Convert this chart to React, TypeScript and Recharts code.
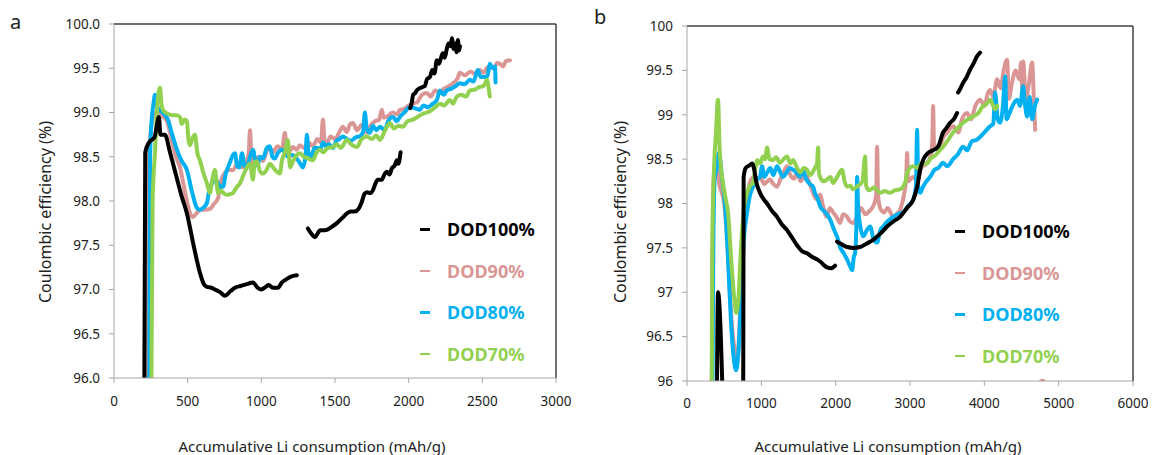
import React from 'react'
import { LineChart, Line, XAxis, YAxis, ReferenceLine } from 'recharts'

type Pt = [number, number | null]

// panel a: x = accumulative Li consumption (mAh/g), y = coulombic efficiency (%)
const aDod100: Pt[] = [
  [205, 95.5], [212, 98.55], [237, 98.66], [275, 98.72], [305, 98.95], [315, 98.75], [346, 98.75],
  [380, 98.55], [420, 98.3], [460, 98.05], [495, 97.86], [540, 97.5], [583, 97.19], [610, 97.06],
  [631, 97.03], [660, 97.02], [685, 97.0], [720, 96.97], [753, 96.93], [790, 96.98], [821, 97.02],
  [860, 97.04], [902, 97.06], [943, 97.08], [975, 97.02], [1000, 97.0], [1030, 97.03], [1050, 97.05],
  [1080, 97.02], [1113, 97.02], [1140, 97.08], [1174, 97.12], [1210, 97.15], [1241, 97.16],
  [1280, null],
  [1316, 97.69], [1340, 97.63], [1364, 97.59], [1385, 97.64], [1398, 97.67], [1430, 97.67],
  [1452, 97.68], [1480, 97.71], [1513, 97.75], [1550, 97.81], [1581, 97.86], [1610, 97.88],
  [1635, 97.88], [1660, 97.91], [1680, 97.98], [1700, 98.08], [1716, 98.1], [1740, 98.09],
  [1757, 98.12], [1775, 98.2], [1790, 98.24], [1818, 98.24], [1835, 98.3], [1852, 98.33],
  [1870, 98.3], [1886, 98.37], [1905, 98.4], [1920, 98.46], [1930, 98.42], [1945, 98.55],
  [1980, null],
  [2010, 99.05], [2021, 99.11], [2030, 99.2], [2045, 99.22], [2055, 99.25], [2070, 99.27],
  [2096, 99.29], [2110, 99.3], [2125, 99.38], [2144, 99.4], [2160, 99.48], [2175, 99.44],
  [2191, 99.59], [2205, 99.55], [2220, 99.62], [2232, 99.67], [2245, 99.62], [2259, 99.72],
  [2270, 99.78], [2285, 99.75], [2293, 99.84], [2305, 99.72], [2314, 99.78], [2325, 99.68],
  [2334, 99.82], [2342, 99.7], [2348, 99.75],
]

const aDod90: Pt[] = [
  [225, 95.5], [232, 98.3], [245, 98.7], [265, 98.95], [290, 99.0], [310, 99.0], [335, 98.95],
  [360, 98.9], [390, 98.7], [420, 98.5], [448, 98.38], [470, 98.2], [495, 98.0], [516, 97.86],
  [536, 97.82], [560, 97.86], [583, 97.9], [620, 97.9], [651, 97.91], [680, 97.97], [706, 98.03],
  [730, 98.25], [753, 98.32], [780, 98.35], [807, 98.35], [840, 98.42], [870, 98.38], [900, 98.45],
  [915, 98.55], [923, 98.8], [932, 98.5], [943, 98.38], [965, 98.48], [990, 98.5], [1010, 98.45],
  [1038, 98.57], [1058, 98.6], [1080, 98.55], [1110, 98.62], [1140, 98.58], [1160, 98.77],
  [1172, 98.6], [1190, 98.56], [1214, 98.61], [1240, 98.58], [1262, 98.63], [1290, 98.6],
  [1320, 98.66], [1350, 98.62], [1380, 98.7], [1405, 98.66], [1418, 98.92], [1430, 98.66],
  [1445, 98.66], [1470, 98.73], [1500, 98.7], [1530, 98.78], [1553, 98.84], [1580, 98.78],
  [1600, 98.86], [1621, 98.88], [1650, 98.8], [1680, 98.86], [1716, 98.77], [1740, 98.85],
  [1770, 98.9], [1800, 98.92], [1818, 99.03], [1830, 98.94], [1860, 98.96], [1890, 99.0],
  [1920, 98.98], [1940, 99.03], [1970, 99.04], [2000, 99.08], [2028, 99.1], [2060, 99.12],
  [2090, 99.2], [2123, 99.22], [2150, 99.18], [2180, 99.25], [2212, 99.22], [2240, 99.27],
  [2266, 99.29], [2300, 99.33], [2330, 99.38], [2348, 99.45], [2380, 99.42], [2420, 99.46],
  [2450, 99.44], [2483, 99.48], [2510, 99.45], [2530, 99.5], [2551, 99.52], [2580, 99.5],
  [2600, 99.56], [2619, 99.55], [2640, 99.52], [2660, 99.58], [2687, 99.59],
]

const aDod80: Pt[] = [
  [238, 95.5], [245, 98.5], [255, 98.9], [268, 99.1], [278, 99.2], [290, 99.08], [299, 99.05],
  [330, 99.0], [366, 98.92], [395, 98.75], [427, 98.58], [460, 98.45], [495, 98.35], [530, 98.1],
  [563, 97.92], [583, 97.9], [610, 97.93], [631, 97.98], [651, 98.16], [668, 98.2], [685, 98.26],
  [705, 98.2], [722, 98.16], [740, 98.16], [757, 98.3], [774, 98.38], [790, 98.45], [807, 98.52],
  [821, 98.54], [835, 98.4], [850, 98.38], [869, 98.54], [885, 98.4], [902, 98.38], [920, 98.48],
  [943, 98.58], [960, 98.45], [975, 98.4], [990, 98.5], [1010, 98.48], [1038, 98.6], [1058, 98.62],
  [1075, 98.5], [1090, 98.48], [1115, 98.55], [1140, 98.58], [1160, 98.55], [1180, 98.5],
  [1210, 98.52], [1240, 98.48], [1265, 98.42], [1282, 98.38], [1300, 98.5], [1309, 98.75],
  [1320, 98.55], [1340, 98.5], [1360, 98.6], [1380, 98.6], [1400, 98.58], [1418, 98.66],
  [1440, 98.62], [1460, 98.64], [1486, 98.6], [1510, 98.68], [1530, 98.7], [1553, 98.73],
  [1580, 98.7], [1610, 98.68], [1640, 98.72], [1669, 98.73], [1690, 98.78], [1703, 99.0],
  [1715, 98.82], [1737, 98.77], [1757, 98.85], [1780, 98.8], [1805, 98.84], [1838, 98.8],
  [1860, 98.9], [1893, 98.95], [1920, 98.9], [1940, 98.95], [1970, 99.0], [2008, 99.06],
  [2040, 99.05], [2076, 99.03], [2100, 99.08], [2130, 99.06], [2164, 99.1], [2191, 99.14],
  [2212, 99.25], [2240, 99.2], [2259, 99.25], [2290, 99.27], [2320, 99.3], [2348, 99.33],
  [2380, 99.32], [2415, 99.37], [2440, 99.35], [2469, 99.48], [2490, 99.4], [2531, 99.4],
  [2545, 99.5], [2551, 99.55], [2570, 99.5], [2585, 99.52], [2590, 99.34],
]

const aDod70: Pt[] = [
  [252, 95.5], [262, 98.0], [278, 98.54], [295, 99.1], [312, 99.28], [322, 99.1], [332, 99.03],
  [350, 99.0], [372, 98.98], [394, 98.97], [420, 98.97], [448, 98.95], [460, 98.87], [480, 98.92],
  [495, 98.9], [505, 98.7], [516, 98.63], [535, 98.72], [550, 98.75], [565, 98.55], [583, 98.46],
  [610, 98.3], [631, 98.2], [651, 98.09], [668, 98.25], [685, 98.35], [697, 98.2], [706, 98.09],
  [725, 98.12], [750, 98.08], [774, 98.07], [790, 98.08], [807, 98.09], [830, 98.15], [855, 98.2],
  [880, 98.3], [902, 98.38], [923, 98.42], [943, 98.24], [955, 98.44], [970, 98.45], [990, 98.34],
  [1011, 98.31], [1035, 98.35], [1058, 98.42], [1080, 98.38], [1100, 98.34], [1126, 98.31],
  [1140, 98.46], [1160, 98.55], [1180, 98.69], [1195, 98.38], [1215, 98.45], [1240, 98.52],
  [1262, 98.54], [1290, 98.5], [1320, 98.48], [1350, 98.46], [1375, 98.55], [1398, 98.58],
  [1420, 98.55], [1450, 98.6], [1486, 98.61], [1510, 98.64], [1540, 98.6], [1581, 98.69],
  [1610, 98.64], [1649, 98.61], [1680, 98.7], [1716, 98.73], [1750, 98.7], [1780, 98.74],
  [1805, 98.69], [1840, 98.8], [1873, 98.88], [1900, 98.82], [1930, 98.85], [1961, 98.84],
  [1990, 98.9], [2028, 98.92], [2060, 98.95], [2090, 98.98], [2123, 99.0], [2150, 99.02],
  [2180, 99.06], [2212, 99.1], [2240, 99.08], [2280, 99.14], [2300, 99.1], [2327, 99.18],
  [2360, 99.2], [2390, 99.18], [2415, 99.25], [2450, 99.26], [2483, 99.29], [2510, 99.3],
  [2531, 99.37], [2545, 99.25], [2551, 99.18],
]

// panel b
const bDod100: Pt[] = [
  [400, 95.5], [417, 97.0], [490, 95.5],
  [600, null],
  [755, 95.5], [762, 98.3], [790, 98.4], [840, 98.43], [875, 98.45], [900, 98.4], [930, 98.25],
  [982, 98.12], [1030, 98.05], [1077, 98.0], [1140, 97.92], [1211, 97.85], [1280, 97.76],
  [1346, 97.7], [1410, 97.62], [1480, 97.53], [1550, 97.46], [1615, 97.44], [1680, 97.4],
  [1750, 97.37], [1800, 97.34], [1850, 97.3], [1884, 97.28], [1940, 97.27], [1992, 97.3],
  [2005, null],
  [2019, 97.57], [2080, 97.54], [2153, 97.51], [2240, 97.5], [2328, 97.51], [2420, 97.55],
  [2503, 97.59], [2600, 97.66], [2692, 97.74], [2780, 97.8], [2867, 97.85], [2960, 97.95],
  [3042, 98.04], [3100, 98.2], [3136, 98.38], [3176, 98.49], [3244, 98.57], [3310, 98.6],
  [3378, 98.64], [3445, 98.8], [3490, 98.85], [3540, 98.91], [3590, 98.95], [3634, 99.02],
  [3640, null],
  [3647, 99.25], [3680, 99.3], [3715, 99.36], [3760, 99.42], [3809, 99.51], [3850, 99.57],
  [3903, 99.66], [3943, 99.7],
]

const bDod90: Pt[] = [
  [330, 95.5], [345, 97.5], [360, 98.3], [380, 98.45], [400, 98.4], [440, 98.2], [500, 98.0],
  [540, 97.6], [590, 96.8], [640, 96.35], [673, 96.24], [700, 96.5], [730, 97.2], [770, 97.8],
  [808, 98.05], [850, 98.25], [900, 98.3], [950, 98.28], [982, 98.3], [1040, 98.22], [1080, 98.25],
  [1117, 98.27], [1160, 98.22], [1211, 98.19], [1260, 98.28], [1300, 98.35], [1346, 98.42],
  [1390, 98.32], [1440, 98.28], [1480, 98.35], [1530, 98.25], [1580, 98.32], [1615, 98.3],
  [1660, 98.2], [1696, 98.12], [1740, 98.05], [1790, 98.1], [1830, 97.97], [1880, 97.85],
  [1920, 97.95], [1965, 97.9], [2010, 97.85], [2059, 97.78], [2100, 97.88], [2153, 97.85],
  [2190, 97.8], [2234, 97.78], [2290, 97.85], [2340, 97.95], [2400, 97.88], [2460, 97.92],
  [2520, 98.0], [2545, 98.1], [2557, 98.64], [2570, 98.1], [2598, 97.95], [2650, 97.9],
  [2700, 97.95], [2773, 97.85], [2820, 97.88], [2867, 97.93], [2920, 98.1], [2950, 98.3],
  [2961, 98.57], [2975, 98.25], [3042, 98.3], [3100, 98.25], [3150, 98.4], [3230, 98.46],
  [3280, 98.55], [3300, 98.7], [3311, 99.1], [3322, 98.68], [3380, 98.6], [3450, 98.75],
  [3500, 98.8], [3580, 98.87], [3650, 98.8], [3700, 98.95], [3769, 99.02], [3820, 98.95],
  [3880, 99.1], [3943, 99.17], [4000, 99.1], [4050, 99.25], [4078, 99.28], [4120, 99.2],
  [4172, 99.4], [4220, 99.3], [4260, 99.5], [4307, 99.62], [4330, 99.18], [4370, 99.35],
  [4420, 99.5], [4470, 99.4], [4495, 99.59], [4510, 99.3], [4522, 99.6], [4560, 99.18],
  [4600, 99.35], [4643, 99.59], [4665, 99.2], [4684, 98.83],
  [4720, null],
  [4765, 96.0], [4795, 96.0],
]

const bDod80: Pt[] = [
  [340, 95.5], [355, 97.6], [375, 98.3], [400, 98.4], [420, 98.55], [430, 98.57], [470, 98.3],
  [510, 98.0], [545, 97.5], [590, 96.7], [630, 96.25], [660, 96.12], [690, 96.3], [725, 96.9],
  [765, 97.6], [808, 97.9], [850, 98.1], [888, 98.19], [930, 98.26], [982, 98.3], [1010, 98.42],
  [1040, 98.3], [1080, 98.35], [1120, 98.4], [1160, 98.32], [1211, 98.42], [1250, 98.36],
  [1292, 98.3], [1340, 98.35], [1380, 98.4], [1427, 98.38], [1470, 98.35], [1520, 98.3],
  [1561, 98.38], [1600, 98.28], [1650, 98.22], [1696, 98.19], [1720, 98.12], [1760, 98.05],
  [1790, 97.97], [1860, 97.9], [1925, 97.82], [1980, 97.7], [2030, 97.6], [2059, 97.51],
  [2100, 97.45], [2153, 97.37], [2190, 97.3], [2221, 97.25], [2245, 97.4], [2261, 97.44],
  [2280, 97.8], [2288, 98.3], [2301, 97.97], [2330, 97.75], [2369, 97.63], [2420, 97.7],
  [2463, 97.74], [2510, 97.6], [2557, 97.56], [2600, 97.7], [2638, 97.74], [2700, 97.8],
  [2773, 97.85], [2840, 97.88], [2907, 97.9], [2980, 97.98], [3042, 98.04], [3080, 98.2],
  [3096, 98.83], [3110, 98.2], [3136, 98.12], [3176, 98.19], [3220, 98.25], [3271, 98.3],
  [3330, 98.38], [3380, 98.4], [3445, 98.46], [3500, 98.42], [3580, 98.5], [3640, 98.55],
  [3715, 98.64], [3770, 98.6], [3830, 98.7], [3900, 98.72], [3943, 98.75], [4000, 98.8],
  [4078, 98.87], [4120, 98.9], [4145, 99.25], [4180, 98.95], [4213, 98.91], [4250, 99.1],
  [4280, 99.43], [4300, 98.95], [4330, 99.0], [4380, 99.1], [4441, 99.17], [4480, 99.1],
  [4522, 99.32], [4550, 99.1], [4576, 98.98], [4610, 99.2], [4643, 98.95], [4680, 99.1],
  [4711, 99.17],
]

const bDod70: Pt[] = [
  [330, 95.5], [340, 97.5], [360, 98.3], [390, 98.8], [417, 99.17], [440, 98.6], [480, 98.25],
  [520, 98.05], [552, 97.9], [600, 97.3], [640, 96.9], [660, 96.77], [690, 96.9], [720, 97.4],
  [760, 97.9], [808, 98.12], [850, 98.2], [888, 98.23], [920, 98.4], [942, 98.49], [980, 98.45],
  [1023, 98.53], [1050, 98.5], [1077, 98.63], [1110, 98.5], [1157, 98.49], [1200, 98.52],
  [1252, 98.46], [1300, 98.5], [1346, 98.53], [1390, 98.45], [1427, 98.49], [1470, 98.42],
  [1521, 98.35], [1570, 98.4], [1615, 98.38], [1660, 98.32], [1720, 98.4], [1750, 98.45],
  [1763, 98.63], [1775, 98.35], [1790, 98.3], [1840, 98.25], [1884, 98.27], [1930, 98.3],
  [1965, 98.23], [2020, 98.3], [2086, 98.38], [2120, 98.25], [2153, 98.19], [2200, 98.2],
  [2234, 98.16], [2300, 98.2], [2360, 98.25], [2396, 98.53], [2410, 98.2], [2450, 98.15],
  [2520, 98.18], [2598, 98.12], [2660, 98.14], [2732, 98.12], [2800, 98.15], [2867, 98.16],
  [2940, 98.25], [2961, 98.35], [3042, 98.42], [3100, 98.4], [3150, 98.45], [3230, 98.45],
  [3271, 98.5], [3350, 98.55], [3400, 98.6], [3445, 98.64], [3500, 98.7], [3580, 98.8],
  [3640, 98.85], [3715, 98.91], [3780, 98.95], [3849, 98.98], [3920, 99.02], [3984, 99.1],
  [4030, 99.12], [4078, 99.17], [4110, 99.12], [4145, 99.06], [4172, 99.1],
]

const seriesNames = ['DOD100%', 'DOD90%', 'DOD80%', 'DOD70%']
const seriesColors = ['#000000', '#DA9694', '#00B0F0', '#92D050']
const yTicks = [96, 96.5, 97, 97.5, 98, 98.5, 99, 99.5, 100]
const aXTicks = [0, 500, 1000, 1500, 2000, 2500, 3000]
const bXTicks = [0, 1000, 2000, 3000, 4000, 5000, 6000]
const xTitle = 'Accumulative Li consumption (mAh/g)'
const yTitle = 'Coulombic efficiency (%)'

const toRows = (pts: Pt[]) => pts.map(([x, y]) => ({ x, y }))

const font = '"Noto Sans", "DejaVu Sans", sans-serif'
const tickStyle = { fontSize: 13.5, fill: '#222', fontFamily: font }

interface PanelProps {
  series: Pt[][]
  xMax: number
  xTicks: number[]
  yFormat: (v: number) => string
  width: number
  margin: { top: number; right: number; left: number; bottom: number }
  tickMargin: number
}

function Panel({ series, xMax, xTicks, yFormat, width, margin, tickMargin }: PanelProps) {
  // draw DOD90, DOD80, DOD70 then DOD100 on top
  const order = [1, 2, 3, 0]
  return (
    <LineChart width={width} height={455} margin={margin}>
      <XAxis
        dataKey="x"
        type="number"
        domain={[0, xMax]}
        ticks={xTicks}
        allowDataOverflow
        stroke="#a6a6a6"
        tickSize={5}
        tickMargin={tickMargin}
        tick={tickStyle}
        height={30}
      />
      <YAxis
        type="number"
        domain={[96, 100]}
        ticks={yTicks}
        allowDataOverflow
        tickFormatter={yFormat}
        stroke="#a6a6a6"
        tickSize={5}
        tickMargin={9}
        tick={tickStyle}
        width={40}
      />
      <ReferenceLine y={100} stroke="#404040" strokeWidth={1.5} />
      <ReferenceLine x={xMax} stroke="#404040" strokeWidth={1.5} />
      {order.map((i) => (
        <Line
          key={seriesNames[i]}
          data={toRows(series[i])}
          dataKey="y"
          name={seriesNames[i]}
          type="monotone"
          stroke={seriesColors[i]}
          strokeWidth={4}
          strokeLinejoin="round"
          strokeLinecap="round"
          dot={false}
          activeDot={false}
          connectNulls={false}
          isAnimationActive={false}
        />
      ))}
    </LineChart>
  )
}

function LegendBox({ left, top }: { left: number; top: number }) {
  return (
    <div style={{ position: 'absolute', left, top }}>
      {seriesNames.map((n, i) => (
        <div key={n} style={{ position: 'absolute', top: i * 41.5, left: 0, height: 24, width: 140 }}>
          <div style={{ position: 'absolute', left: 0, top: 11, width: 10, height: 2.5, background: seriesColors[i] }} />
          <div
            style={{
              position: 'absolute',
              left: 27,
              top: 0,
              lineHeight: '24px',
              fontSize: 18,
              fontWeight: 700,
              fontFamily: font,
              color: seriesColors[i],
              whiteSpace: 'nowrap',
            }}
          >
            {n}
          </div>
        </div>
      ))}
    </div>
  )
}

const textStyle: React.CSSProperties = {
  position: 'absolute',
  fontFamily: font,
  color: '#222',
  whiteSpace: 'nowrap',
}

export default function App() {
  return (
    <div style={{ position: 'absolute', left: 0, top: 0, width: 1153, height: 455, background: '#fff', overflow: 'hidden' }}>
      <div style={{ position: 'absolute', left: 0, top: 0 }}>
        <Panel
          series={[aDod100, aDod90, aDod80, aDod70]}
          xMax={3000}
          xTicks={aXTicks}
          yFormat={(v) => v.toFixed(1)}
          width={580}
          margin={{ top: 24, right: 24, left: 74, bottom: 47 }}
          tickMargin={13}
        />
      </div>
      <div style={{ position: 'absolute', left: 580, top: 0 }}>
        <Panel
          series={[bDod100, bDod90, bDod80, bDod70]}
          xMax={6000}
          xTicks={bXTicks}
          yFormat={(v) => String(v)}
          width={573}
          margin={{ top: 26, right: 20, left: 67, bottom: 44 }}
          tickMargin={12}
        />
      </div>

      <LegendBox left={420} top={217} />
      <LegendBox left={955} top={219} />

      <div style={{ ...textStyle, left: 10, top: 10, fontSize: 20, lineHeight: '24px' }}>a</div>
      <div style={{ ...textStyle, left: 594, top: 5, fontSize: 20, lineHeight: '24px' }}>b</div>

      <div style={{ ...textStyle, left: 312, top: 446, fontSize: 15, lineHeight: '20px', transform: 'translate(-50%, -50%)' }}>
        {xTitle}
      </div>
      <div style={{ ...textStyle, left: 888, top: 446, fontSize: 15, lineHeight: '20px', transform: 'translate(-50%, -50%)' }}>
        {xTitle}
      </div>
      <div style={{ ...textStyle, left: 45, top: 212, fontSize: 16, lineHeight: '20px', transform: 'translate(-50%, -50%) rotate(-90deg)' }}>
        {yTitle}
      </div>
      <div style={{ ...textStyle, left: 620, top: 212, fontSize: 16, lineHeight: '20px', transform: 'translate(-50%, -50%) rotate(-90deg)' }}>
        {yTitle}
      </div>
    </div>
  )
}
